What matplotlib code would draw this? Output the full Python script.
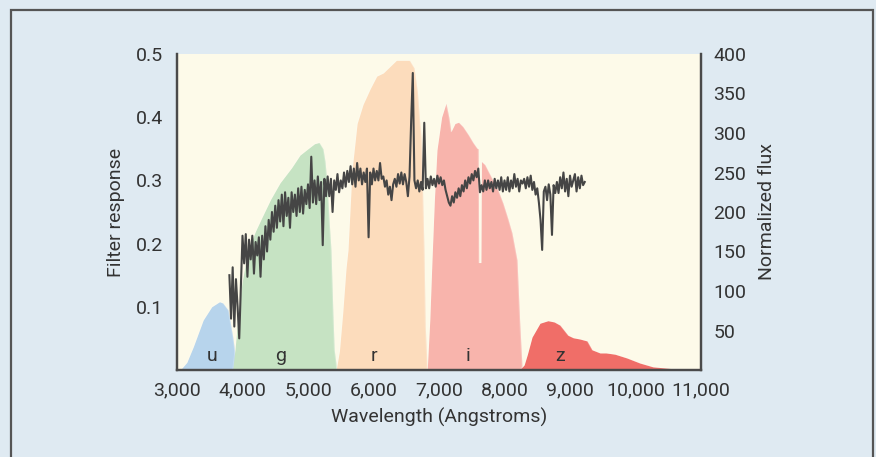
import numpy as np
import matplotlib
matplotlib.use("Agg")
import matplotlib.pyplot as plt
from matplotlib.patches import Rectangle

plt.rcParams['font.family'] = ['Roboto', 'DejaVu Sans']

# filter transmission curves (wavelength in Angstroms, response)
u_wl = [3050, 3150, 3250, 3400, 3530, 3650, 3700, 3780, 3850, 3900, 3950]
u_r = [0, 0.012, 0.037, 0.079, 0.1, 0.108, 0.106, 0.095, 0.053, 0.015, 0]

g_wl = [3850, 3885, 3931, 3992, 4084, 4200, 4300, 4430, 4573, 4750, 4878, 5000,
        5100, 5170, 5229, 5260, 5290, 5320, 5351, 5380, 5400, 5440]
g_r = [0, 0.032, 0.084, 0.138, 0.19, 0.22, 0.242, 0.27, 0.296, 0.32, 0.34, 0.35,
       0.358, 0.36, 0.35, 0.33, 0.296, 0.24, 0.19, 0.09, 0.032, 0]

r_wl = [5430, 5480, 5530, 5580, 5611, 5672, 5750, 5840, 5950, 6050, 6150, 6250,
        6350, 6450, 6550, 6620, 6670, 6700, 6725, 6750, 6771, 6790, 6820]
r_r = [0, 0.03, 0.09, 0.16, 0.19, 0.316, 0.39, 0.42, 0.445, 0.465, 0.47, 0.48,
       0.49, 0.49, 0.49, 0.478, 0.44, 0.40, 0.369, 0.28, 0.19, 0.07, 0]

i_wl = [6820, 6860, 6893, 6930, 6969, 7040, 7107, 7150, 7183, 7244, 7300, 7366,
        7450, 7519, 7580, 7598, 7606, 7640, 7648, 7700, 7824, 7900, 7977, 8050,
        8114, 8191, 8230, 8270]
i_r = [0, 0.08, 0.174, 0.27, 0.348, 0.40, 0.422, 0.40, 0.377, 0.39, 0.392, 0.385,
       0.372, 0.36, 0.351, 0.35, 0.17, 0.17, 0.33, 0.325, 0.30, 0.285, 0.264, 0.24,
       0.217, 0.174, 0.08, 0]

z_wl = [8230, 8300, 8350, 8420, 8542, 8664, 8760, 8847, 8969, 9050, 9153, 9260,
        9336, 9458, 9550, 9687, 9870, 10068, 10267, 10573, 11000]
z_r = [0, 0.008, 0.025, 0.052, 0.074, 0.078, 0.076, 0.071, 0.055, 0.051, 0.049,
       0.046, 0.032, 0.027, 0.027, 0.025, 0.019, 0.011, 0.005, 0.002, 0]

filter_names = ['u', 'g', 'r', 'i', 'z']
filter_colors = ['#b7d4ec', '#c6e3c3', '#fcdcbc', '#f8b4ac', '#f06e68']
label_wl = [3534, 4588, 6008, 7443, 8847]

# galaxy spectrum, normalized flux sampled every 25 A from 3800 A
spec_start = 3800
spec_step = 25
spec_flux = [
    120, 65, 130, 55, 115, 80, 40, 105, 170, 135, 172, 118, 165, 140, 170, 122, 162, 145, 168, 118,
    170, 140, 182, 150, 190, 165, 200, 175, 208, 180, 215, 188, 222, 182, 225, 195, 218, 180, 225, 200,
    222, 195, 230, 200, 232, 198, 228, 210, 235, 205, 270, 212, 240, 210, 245, 215, 238, 158, 242, 220,
    245, 220, 242, 200, 240, 228, 248, 225, 240, 230, 250, 232, 252, 238, 258, 235, 255, 232, 262, 240,
    255, 235, 250, 238, 255, 168, 250, 235, 255, 240, 252, 240, 262, 242, 245, 232, 240, 222, 232, 215,
    235, 242, 232, 248, 236, 250, 235, 248, 238, 220, 245, 315, 376, 240, 230, 240, 226, 238, 228, 313,
    230, 242, 230, 245, 234, 242, 232, 246, 236, 244, 234, 240, 228, 220, 212, 208, 220, 212, 225, 218,
    230, 220, 234, 226, 240, 230, 244, 236, 248, 240, 252, 244, 255, 225, 234, 226, 240, 228, 240, 230,
    238, 226, 242, 230, 240, 228, 244, 226, 240, 228, 244, 226, 240, 230, 248, 232, 242, 226, 240, 236,
    242, 230, 244, 232, 246, 228, 238, 222, 230, 212, 190, 152, 226, 232, 215, 235, 222, 171, 234, 224,
    238, 224, 244, 230, 250, 226, 242, 220, 246, 232, 240, 248, 226, 244, 230, 246, 234, 238,
]
spec_wl = spec_start + spec_step * np.arange(len(spec_flux))

fig = plt.figure(figsize=(8.76, 4.57), dpi=100)
fig.patch.set_facecolor('#dfeaf2')
fig.add_artist(Rectangle((11 / 876, -0.05), 862 / 876, 1.05 - 10 / 457,
                         transform=fig.transFigure, fill=False,
                         edgecolor='#555555', linewidth=1.6))

ax = fig.add_axes([177 / 876, 87 / 457, 524 / 876, 316 / 457])
ax.set_facecolor('#fdfae9')

curves = [(u_wl, u_r), (g_wl, g_r), (r_wl, r_r), (i_wl, i_r), (z_wl, z_r)]
for (wl, resp), col, name, lw in zip(curves, filter_colors, filter_names, label_wl):
    ax.fill_between(wl, 0, resp, color=col, linewidth=0, zorder=2)
    ax.plot(wl, resp, color='white', alpha=0.2, linewidth=0.7, zorder=2)
    ax.text(lw, 0.022, name, ha='center', va='center', fontsize=14,
            color='#333333', zorder=5)

ax.set_xlim(3000, 11000)
ax.set_ylim(0, 0.5)
ax.set_xticks(range(3000, 11001, 1000))
ax.set_xticklabels([f'{v:,}' for v in range(3000, 11001, 1000)])
ax.set_yticks([0.1, 0.2, 0.3, 0.4, 0.5])
ax.tick_params(axis='both', length=0, labelsize=14, colors='#333333')
ax.tick_params(axis='y', pad=10)
ax.tick_params(axis='x', pad=8)
ax.set_xlabel('Wavelength (Angstroms)', fontsize=14, color='#333333', labelpad=6)
ax.set_ylabel('Filter response', fontsize=14, color='#333333', labelpad=8)

ax2 = ax.twinx()
ax2.plot(spec_wl, spec_flux, color='#454545', linewidth=1.5, zorder=4)
ax2.set_ylim(0, 400)
ax2.set_yticks(range(50, 401, 50))
ax2.tick_params(axis='y', length=0, labelsize=14, colors='#333333', pad=9)
ax2.set_ylabel('Normalized flux', fontsize=14, color='#333333', labelpad=8)

for a in (ax, ax2):
    a.spines['top'].set_visible(False)
    for s in ('left', 'right', 'bottom'):
        a.spines[s].set_color('#4a4a4a')
        a.spines[s].set_linewidth(1.6)

fig.savefig('out.png', dpi=100, facecolor=fig.get_facecolor())
